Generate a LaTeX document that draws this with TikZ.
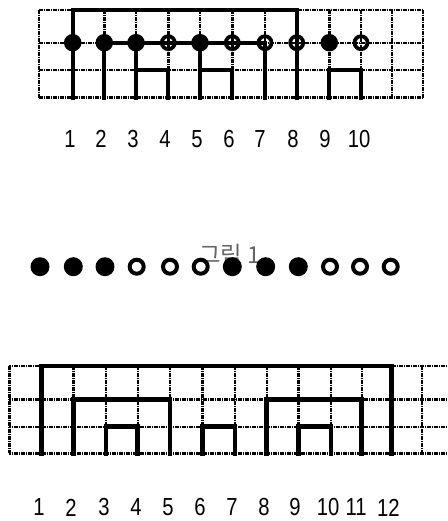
\documentclass[tikz,border=0pt]{standalone}
\usepackage{fontspec}
\newfontfamily\numfont[FakeStretch=0.82]{Liberation Sans}
\newfontfamily\krfont{Noto Sans CJK KR}
\begin{document}
\begin{tikzpicture}[x=0.75pt,y=-0.75pt,
  gridline/.style={black,line width=1.8pt,dash pattern=on 1.2pt off 0.55pt},
  thickline/.style={line width=3.5pt,line cap=rect},
  topthick/.style={line width=3.1pt,line cap=rect},
  fulldot/.style={circle,fill=black,inner sep=0pt,minimum size=#1},
  opendot/.style={circle,draw=black,line width=2.8pt,inner sep=0pt,minimum size=#1},
  numlabel/.style={font=\numfont\fontsize{18.5}{20}\selectfont,inner sep=0pt,anchor=center},
  caption/.style={font=\krfont\fontsize{17.5}{19}\selectfont,text=black!60,inner sep=0pt}]
\clip (0,0) rectangle (448,521);
% ---------- top grid ----------
\foreach \x in {39,72.7,104.3,136,168.3,200,232.3,265,296.7,329.3,361,391.7,422.7}
  \draw[gridline] (\x,10) -- (\x,97.5);
\foreach \y in {10,42.7,70,97.5}
  \draw[gridline] (39,\y) -- (422.7,\y);
% top coordinates: columns 1..10
\foreach \i/\x in {1/72.7,2/104.3,3/136,4/168.3,5/200,6/232.3,7/265,8/296.7,9/329.3,10/361}{
  \coordinate (t\i) at (\x,10);
  \coordinate (m\i) at (\x,42.7);
  \coordinate (l\i) at (\x,70);
  \coordinate (b\i) at (\x,97.5);
}
% pair 1-8
\draw[topthick] (b1) -- (t1) -- (t8) -- (b8);
% pair 2-7
\draw[topthick] (b2) -- (m2) -- (m7) -- (b7);
% pair 3-4
\draw[topthick] (m3) -- (b3);
\draw[topthick] (l3) -- (l4) -- (b4);
% pair 5-6
\draw[topthick] (m5) -- (b5);
\draw[topthick] (l5) -- (l6) -- (b6);
% pair 9-10
\draw[topthick] (b9) -- (l9) -- (l10) -- (b10);
% dots
\foreach \i in {1,2,3,5,9} \node[fulldot=17.5*0.75pt] (td\i) at (m\i) {};
\foreach \i in {4,6,7,8,10} \node[opendot=13*0.75pt] (td\i) at (m\i) {};
% labels
\foreach \i/\x in {1/70,2/101,3/133,4/165,5/197,6/229,7/260,8/293,9/325,10/359}
  \node[numlabel] (tl\i) at (\x,139) {\i};
% ---------- caption and dot row ----------
\node[caption] (cap) at (230,255) {그림 1};
\foreach \i/\x in {1/40,2/73.3,3/105,7/232.3,8/265.7,9/298.3}
  \node[fulldot=19*0.75pt] (rd\i) at (\x,266.7) {};
\foreach \i/\x in {4/136.7,5/170,6/200.7,10/330,11/360,12/390.7}
  \node[opendot=14*0.75pt,line width=3pt] (rd\i) at (\x,266.7) {};
% ---------- bottom grid ----------
\foreach \x in {9.3,41.7,73.3,106,137.7,170,202.3,235,266.7,298.3,331,361.7,391.7,421.7}
  \draw[gridline] (\x,366) -- (\x,453.3);
\foreach \y in {366,399.3,426.7,453.3}
  \draw[gridline] (9.3,\y) -- (460,\y);
\foreach \i/\x in {1/41.7,2/73.3,3/106,4/137.7,5/170,6/202.3,7/235,8/266.7,9/298.3,10/331,11/361.7,12/391.7}{
  \coordinate (T\i) at (\x,366);
  \coordinate (M\i) at (\x,399.3);
  \coordinate (L\i) at (\x,426.7);
  \coordinate (B\i) at (\x,453.3);
}
\draw[thickline] (B1) -- (T1) -- (T12) -- (B12);
\draw[thickline] (B2) -- (M2) -- (M5) -- (B5);
\draw[thickline] (B8) -- (M8) -- (M11) -- (B11);
\draw[thickline] (B3) -- (L3) -- (L4) -- (B4);
\draw[thickline] (B6) -- (L6) -- (L7) -- (B7);
\draw[thickline] (B9) -- (L9) -- (L10) -- (B10);
\foreach \i/\x in {1/39,2/71,3/104,4/136,5/168,6/200,7/232,8/264,9/295,10/328,11/356,12/388.3}
  \node[numlabel] (bl\i) at (\x,507.5) {\i};
\end{tikzpicture}
\end{document}
